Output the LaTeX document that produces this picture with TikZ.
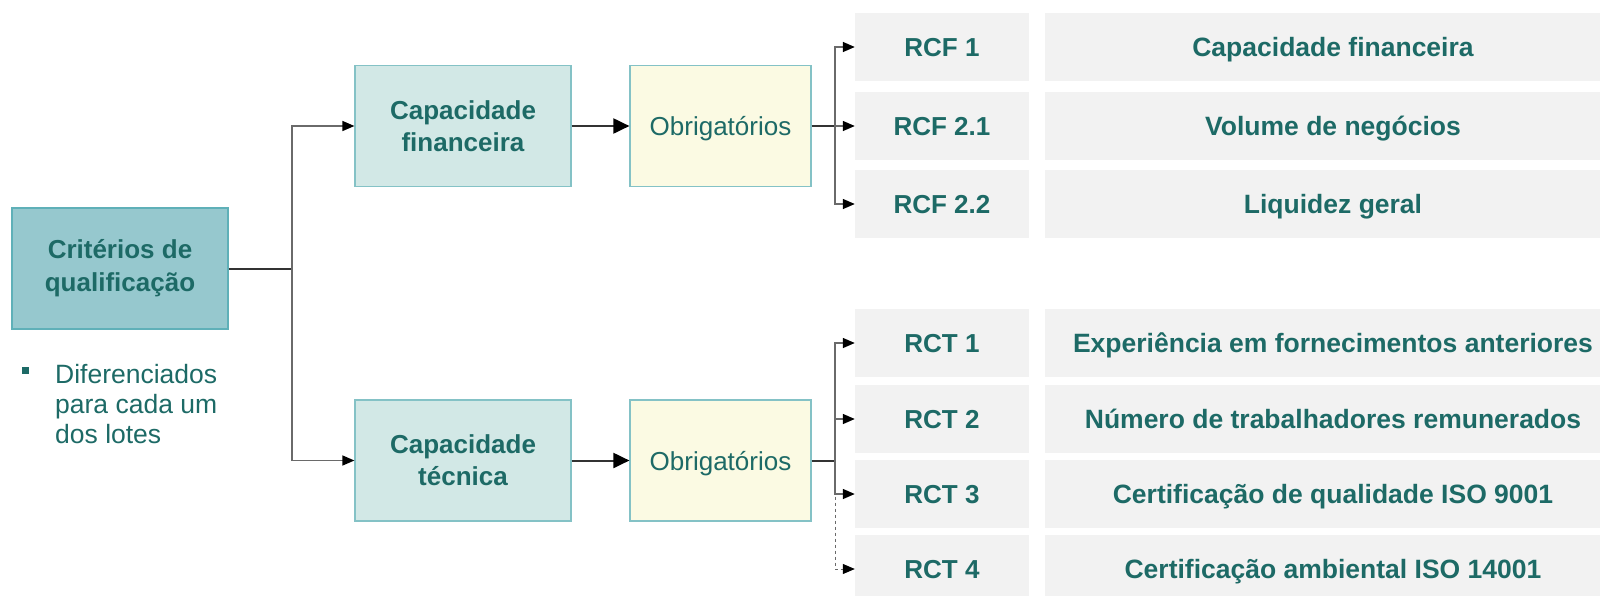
\documentclass[tikz,border=0pt]{standalone}
\usepackage{fontspec}
\setmainfont{Liberation Sans}
\usetikzlibrary{arrows.meta}
\definecolor{txtteal}{HTML}{1D6A66}
\definecolor{critfill}{HTML}{96C8CE}
\definecolor{critline}{HTML}{5FB0B8}
\definecolor{capfill}{HTML}{D2E8E6}
\definecolor{capline}{HTML}{84C2C6}
\definecolor{obfill}{HTML}{FBFAE3}
\definecolor{grayfill}{HTML}{F2F2F2}
\definecolor{linegray}{HTML}{6A6A6A}
\definecolor{linedark}{HTML}{333333}
\begin{document}
\begin{tikzpicture}[x=1pt,y=-1pt,
  base/.style={rectangle,inner sep=0pt,align=center,text=txtteal},
  critbox/.style={base,fill=critfill,draw=critline,line width=1.2pt,minimum width=216pt,minimum height=121pt,font=\bfseries\fontsize{26}{33}\selectfont},
  capbox/.style={base,fill=capfill,draw=capline,line width=1.2pt,minimum width=216pt,minimum height=121pt,font=\bfseries\fontsize{26}{32}\selectfont},
  obbox/.style={base,fill=obfill,draw=capline,line width=1.2pt,minimum width=181pt,minimum height=121pt,text height=19pt,text depth=0pt,font=\fontsize{26}{30}\selectfont},
  codebox/.style={base,fill=grayfill,minimum width=174pt,minimum height=68pt,text height=19pt,text depth=0pt,font=\bfseries\fontsize{26}{30}\selectfont},
  desc/.style={base,text height=19pt,text depth=0pt,font=\bfseries\fontsize{26.5}{30}\selectfont},
  link/.style={line width=1.4pt,draw=linegray},
  dlink/.style={line width=2pt,draw=linedark},
  tip/.style={-{Triangle[length=12pt,width=10pt,color=black]}},
  bigtip/.style={-{Triangle[length=16pt,width=15pt,color=black]}}]
\useasboundingbox (0,0) rectangle (1600,595);
\clip (0,0) rectangle (1600,595);
%gray bars on the right
\foreach \y in {13,92,170,309,385,460,535}
  \fill[grayfill] (1045,\y) rectangle (1600,\y+68);
\path (120,268.5) node(crit)[critbox]{Critérios de\\qualificação}
(463,126) node(capf)[capbox]{Capacidade\\financeira}
(720.5,126) node(obf)[obbox]{Obrigatórios}
(463,460.5) node(capt)[capbox]{Capacidade\\técnica}
(720.5,460.5) node(obt)[obbox]{Obrigatórios};
\path (942,47) node(rcf1)[codebox]{RCF 1}
(942,126) node(rcf21)[codebox]{RCF 2.1}
(942,204) node(rcf22)[codebox]{RCF 2.2}
(942,343) node(rct1)[codebox]{RCT 1}
(942,419) node(rct2)[codebox]{RCT 2}
(942,494) node(rct3)[codebox]{RCT 3}
(942,569) node(rct4)[codebox]{RCT 4};
\path (1333,47) node(d1)[desc]{Capacidade financeira}
(1333,126) node(d21)[desc]{Volume de negócios}
(1333,204) node(d22)[desc]{Liquidez geral}
(1333,343) node(t1)[desc]{Experiência em fornecimentos anteriores}
(1333,419) node(t2)[desc]{Número de trabalhadores remunerados}
(1333,494) node(t3)[desc]{Certificação de qualidade ISO 9001}
(1333,569) node(t4)[desc]{Certificação ambiental ISO 14001};
%nota
\fill[txtteal] (22,367) rectangle (29,374);
\path (55,364) node(note)[base,anchor=north west,align=left,font=\fontsize{26.5}{30}\selectfont]{Diferenciados\\para cada um\\dos lotes};
%ligacoes
\coordinate (j1) at (292,268.5);
\coordinate (j2) at (835,126);
\coordinate (j3) at (835,460.5);
\draw[dlink](crit.east)--(j1);
\draw[link,tip](j1)|-(capf.west);
\draw[link,tip](j1)|-(capt.west);
\draw[dlink,bigtip](capf)--(obf);
\draw[dlink,bigtip](capt)--(obt);
\draw[dlink](obf.east)--(j2);
\draw[dlink](obt.east)--(j3);
\foreach \n in {rcf1,rcf21,rcf22}
  \draw[link,tip](j2)|-(\n.west);
\foreach \n in {rct1,rct2,rct3}
  \draw[link,tip](j3)|-(\n.west);
\draw[link,tip,dashed,line width=1pt](j3)|-(rct4.west);
\end{tikzpicture}
\end{document}
